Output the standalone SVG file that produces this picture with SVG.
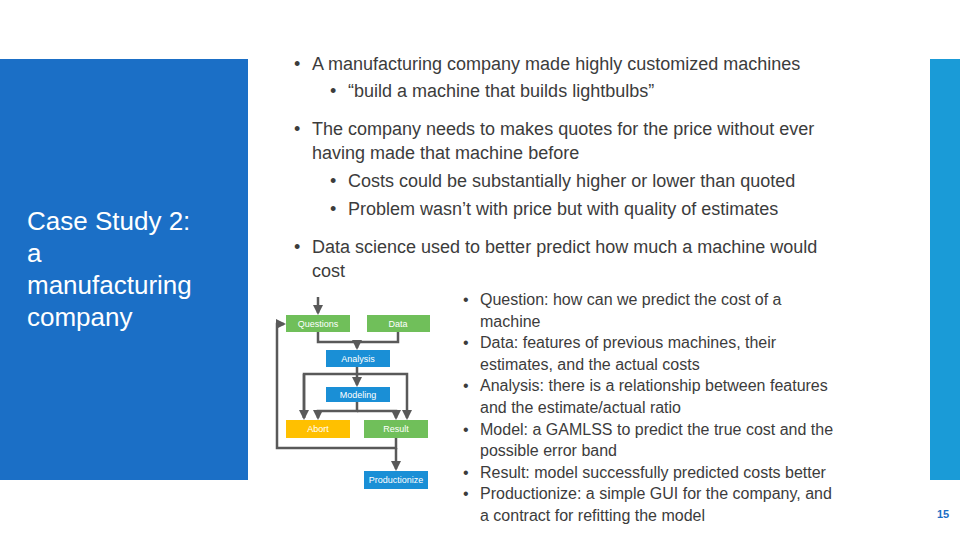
<svg xmlns="http://www.w3.org/2000/svg" width="960" height="540" viewBox="0 0 960 540">
<style>
text{font-family:"Liberation Sans",Arial,sans-serif}
.b{font-size:18px;fill:#3c3c3c}
.s{font-size:16px;fill:#3c3c3c}
.n{font-size:9px;fill:#fff;text-anchor:middle}
.c{fill:none;stroke:#595959;stroke-width:2.5}
</style>
<defs><marker id="a" viewBox="0 0 10 10" refX="8" refY="5" markerWidth="4" markerHeight="4" orient="auto"><path d="M0,0L10,5L0,10z" fill="#595959"/></marker></defs>
<rect width="960" height="540" fill="#fff"/>
<rect x="0" y="59" width="248" height="421" fill="#1b6fc6"/>
<rect x="930" y="59" width="30" height="421" fill="#1a9bd7"/>
<text x="27" y="230" font-size="26" fill="#fff"><tspan x="27">Case Study 2:</tspan><tspan x="27" dy="32">a</tspan><tspan x="27" dy="32">manufacturing</tspan><tspan x="27" dy="32">company</tspan></text>
<g class="b">
<text x="294" y="70">•</text><text x="312" y="70">A manufacturing company made highly customized machines</text>
<text x="330" y="97">•</text><text x="348" y="97">“build a machine that builds lightbulbs”</text>
<text x="294" y="135">•</text><text x="312" y="135">The company needs to makes quotes for the price without ever</text>
<text x="312" y="159">having made that machine before</text>
<text x="330" y="187">•</text><text x="348" y="187">Costs could be substantially higher or lower than quoted</text>
<text x="330" y="215">•</text><text x="348" y="215">Problem wasn’t with price but with quality of estimates</text>
<text x="294" y="253">•</text><text x="312" y="253">Data science used to better predict how much a machine would</text>
<text x="312" y="277">cost</text>
</g>
<g class="s">
<text x="463" y="305">•</text><text x="480" y="305">Question: how can we predict the cost of a</text>
<text x="480" y="327">machine</text>
<text x="463" y="348">•</text><text x="480" y="348">Data: features of previous machines, their</text>
<text x="480" y="370">estimates, and the actual costs</text>
<text x="463" y="391">•</text><text x="480" y="391">Analysis: there is a relationship between features</text>
<text x="480" y="413">and the estimate/actual ratio</text>
<text x="463" y="435">•</text><text x="480" y="435">Model: a GAMLSS to predict the true cost and the</text>
<text x="480" y="456">possible error band</text>
<text x="463" y="478">•</text><text x="480" y="478">Result: model successfully predicted costs better</text>
<text x="463" y="499">•</text><text x="480" y="499">Productionize: a simple GUI for the company, and</text>
<text x="480" y="521">a contract for refitting the model</text>
</g>
<text x="943" y="518" font-size="11" font-weight="bold" fill="#1b6fc6" text-anchor="middle">15</text>
<g id="connectors">
<path class="c" d="M318,297V313" marker-end="url(#a)"/>
<path class="c" d="M318,332V342H398V332"/>
<path class="c" d="M357,342V348" marker-end="url(#a)"/>
<path class="c" d="M357,367V385" marker-end="url(#a)"/>
<path class="c" d="M304,418V374H407V418" marker-end="url(#a)"/>
<path class="c" d="M304,374V418" marker-end="url(#a)"/>
<path class="c" d="M357,402V411H318V418" marker-end="url(#a)"/>
<path class="c" d="M357,411H396V418" marker-end="url(#a)"/>
<path class="c" d="M396,438V448H277V324H284" marker-end="url(#a)"/>
<path class="c" d="M396,448V469" marker-end="url(#a)"/>
</g>
<g id="questions"><rect x="286" y="315" width="64" height="17" fill="#70bf5a"/><text class="n" x="318" y="327">Questions</text></g>
<g id="data"><rect x="367" y="315" width="63" height="17" fill="#70bf5a"/><text class="n" x="398" y="327">Data</text></g>
<g id="analysis"><rect x="326" y="350" width="64" height="17" fill="#1a8fd6"/><text class="n" x="358" y="362">Analysis</text></g>
<g id="modeling"><rect x="326" y="387" width="64" height="15" fill="#1a8fd6"/><text class="n" x="358" y="398">Modeling</text></g>
<g id="abort"><rect x="286" y="420" width="64" height="18" fill="#ffc000"/><text class="n" x="318" y="432">Abort</text></g>
<g id="result"><rect x="364" y="420" width="64" height="18" fill="#70bf5a"/><text class="n" x="396" y="432">Result</text></g>
<g id="productionize"><rect x="364" y="471" width="64" height="18" fill="#1a8fd6"/><text class="n" x="396" y="483" font-size="7">Productionize</text></g>
</svg>
